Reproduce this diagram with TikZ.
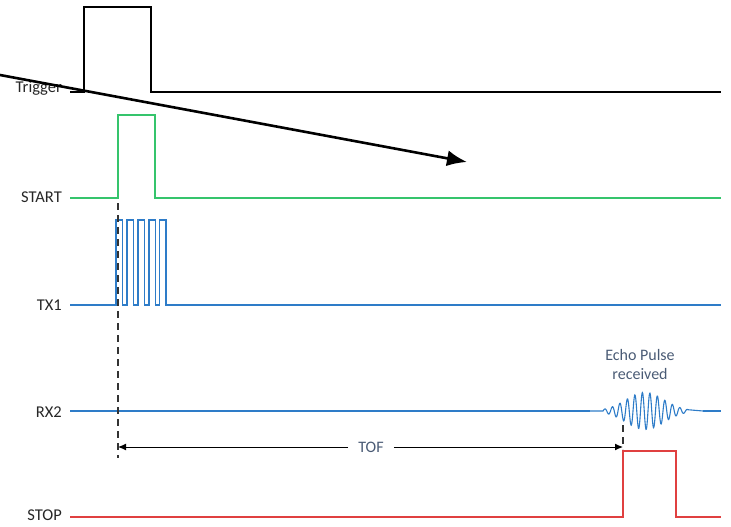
\documentclass[tikz,border=0pt]{standalone}
\usepackage{fontspec}
\setmainfont{Carlito}
\usetikzlibrary{arrows.meta}
\definecolor{sgreen}{HTML}{35C46C}
\definecolor{sblue}{HTML}{2E7CC8}
\definecolor{sred}{HTML}{E04040}
\definecolor{stext}{HTML}{4A5B75}
\begin{document}
\begin{tikzpicture}[x=1pt,y=-1pt,
  lbl/.style={anchor=east,font=\fontsize{16.5}{18}\selectfont,text=black!85,inner sep=0pt},
  note/.style={font=\fontsize{16}{19}\selectfont,text=stext,inner sep=1pt,align=center},
  sig/.style={line width=1.8pt,line join=miter},
  dsh/.style={black!80,line width=1.3pt,dash pattern=on 7pt off 5pt}]
\useasboundingbox (0,0) rectangle (731,527);
% labels
\node[lbl] (ltrig) at (62,88) {Trigger};
\node[lbl] (lstart) at (62,197) {START};
\node[lbl] (ltx) at (62,305) {TX1};
\node[lbl] (lrx) at (62,412) {RX2};
\node[lbl] (lstop) at (62,515) {STOP};
% Trigger
\draw[line width=1.4pt,black] (70,92) -- (84,92) -- (84,7) -- (151,7) -- (151,92) -- (721,92);
% START
\draw[sig,sgreen] (70,198) -- (118,198) -- (118,115) -- (155,115) -- (155,198) -- (721,198);
% TX1
\draw[sig,sblue,line width=1.6pt] (70,305) -- (116,305)
  \foreach \i in {0,...,4} { -- ({116+10.9*\i},305) -- ({116+10.9*\i},220) -- ({122.6+10.9*\i},220) -- ({122.6+10.9*\i},305) }
  -- (721,305);
% RX2
\draw[sig,sblue] (70,411) -- (590,411);
\draw[line width=1.1pt,sblue] (590,411) -- (603,411)
  -- plot[domain=603:688,samples=260,smooth] (\x,{411-18.5*exp(-((\x-645)/27)^2)*sin(48*(\x-603))})
  -- (703,411);
\draw[sig,sblue] (703,411) -- (721,411);
% STOP
\draw[sig,sred] (70,517) -- (623,517) -- (623,451) -- (676,451) -- (676,517) -- (721,517);
% dashed markers
\coordinate (d1t) at (118,203);
\coordinate (d1b) at (118,458);
\coordinate (d2t) at (623,425);
\coordinate (d2b) at (623,449);
\draw[dsh] (d1t) -- (d1b);
\draw[dsh] (d2t) -- (d2b);
% TOF
\node[note] (tof) at (371,447) {TOF};
\coordinate (tofL) at (118,447);
\coordinate (tofR) at (623,447);
\draw[black,line width=1pt,-{Latex[length=8pt,width=7pt]}] (tof.west) ++(-9,0) -- (tofL);
\draw[black,line width=1pt,-{Latex[length=8pt,width=7pt]}] (tof.east) ++(9,0) -- (tofR);
% echo label
\node[note] (echo) at (640,364) {Echo Pulse\\received};
% big arrow
\coordinate (aS) at (0,75);
\coordinate (aE) at (467,162);
\draw[black,line width=2.6pt,-{Latex[length=20pt,width=16pt]}] (aS) -- (aE);
\end{tikzpicture}
\end{document}
